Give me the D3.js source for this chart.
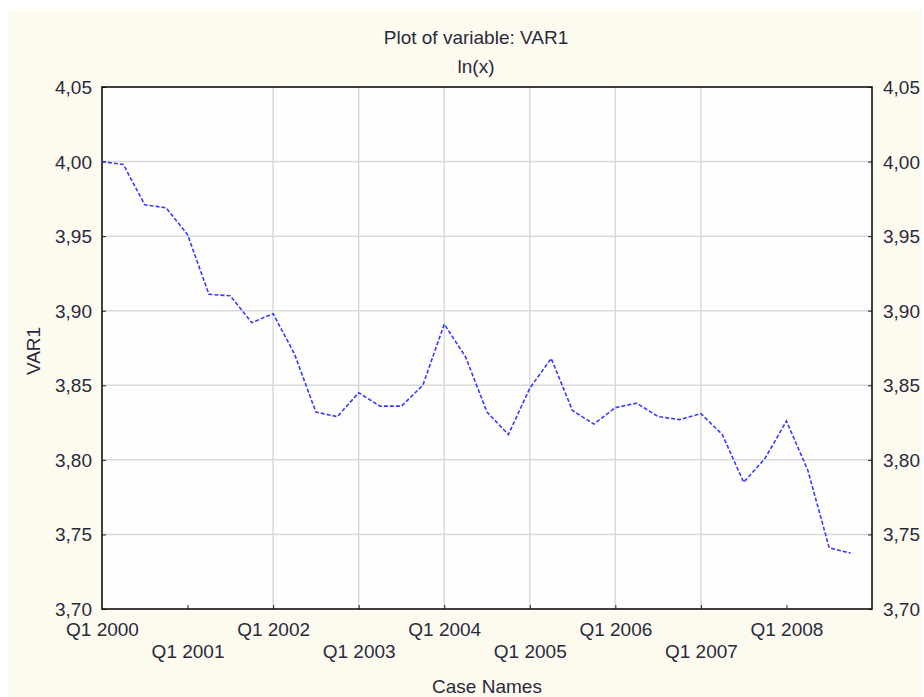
<!DOCTYPE html>
<html>
<head>
<meta charset="utf-8">
<script src="https://cdn.jsdelivr.net/npm/d3@7"></script>
<style>
  html, body { margin: 0; padding: 0; background: #ffffff; }
  svg { display: block; }
  text { font-family: "Liberation Sans", Arial, sans-serif; fill: #2a2a3a; }
</style>
</head>
<body>
<svg id="chart" width="924" height="697"></svg>
<script>
// ---- data ----
const caseNames = [
  "Q1 2000","Q2 2000","Q3 2000","Q4 2000",
  "Q1 2001","Q2 2001","Q3 2001","Q4 2001",
  "Q1 2002","Q2 2002","Q3 2002","Q4 2002",
  "Q1 2003","Q2 2003","Q3 2003","Q4 2003",
  "Q1 2004","Q2 2004","Q3 2004","Q4 2004",
  "Q1 2005","Q2 2005","Q3 2005","Q4 2005",
  "Q1 2006","Q2 2006","Q3 2006","Q4 2006",
  "Q1 2007","Q2 2007","Q3 2007","Q4 2007",
  "Q1 2008","Q2 2008","Q3 2008","Q4 2008"
];
const var1 = [
  4.000, 3.998, 3.971, 3.969,
  3.951, 3.911, 3.910, 3.892,
  3.898, 3.871, 3.832, 3.829,
  3.845, 3.836, 3.836, 3.850,
  3.891, 3.869, 3.832, 3.817,
  3.848, 3.868, 3.833, 3.824,
  3.835, 3.838, 3.829, 3.827,
  3.831, 3.817, 3.785, 3.801,
  3.826, 3.793, 3.741, 3.7375
];
const xTickLabels = ["Q1 2000","Q1 2001","Q1 2002","Q1 2003","Q1 2004","Q1 2005","Q1 2006","Q1 2007","Q1 2008"];
const xGridLabels = ["Q1 2002","Q1 2003","Q1 2004","Q1 2005","Q1 2006","Q1 2007"];
const yTicks = [3.70, 3.75, 3.80, 3.85, 3.90, 3.95, 4.00, 4.05];
const titleLines = ["Plot of variable: VAR1", "ln(x)"];

// ---- layout ----
const FS = 19;
const svg = d3.select("#chart");
const L = 102, R = 872, T = 87, B = 609;

svg.append("rect").attr("x", 8).attr("y", 9).attr("width", 914).attr("height", 688)
  .attr("fill", "#fdfbf0");
svg.append("rect").attr("x", L).attr("y", T).attr("width", R - L).attr("height", B - T)
  .attr("fill", "#fefefe");

const x = d3.scaleLinear().domain([0, caseNames.length]).range([L, R]);
const y = d3.scaleLinear().domain([3.70, 4.05]).range([B, T]);
const fmt = v => d3.format(".2f")(v).replace(".", ",");
const idx = name => caseNames.indexOf(name);

// gridlines
const grid = svg.append("g");
grid.selectAll("line.h").data(yTicks.filter(v => v > 3.70 && v < 4.05)).join("line")
  .attr("x1", L).attr("x2", R).attr("y1", d => y(d)).attr("y2", d => y(d))
  .attr("stroke", "#d9d9d9").attr("stroke-width", 1.5);
grid.selectAll("line.v").data(xGridLabels).join("line")
  .attr("x1", d => x(idx(d))).attr("x2", d => x(idx(d))).attr("y1", T).attr("y2", B)
  .attr("stroke", "#d9d9d9").attr("stroke-width", 1.5);

// axes
const yLeft = d3.axisLeft(y).tickValues(yTicks).tickFormat(fmt).tickSize(-4);
const yRight = d3.axisRight(y).tickValues(yTicks).tickFormat(fmt).tickSize(-4);
const gl = svg.append("g").attr("transform", `translate(${L},0)`).call(yLeft);
const gr = svg.append("g").attr("transform", `translate(${R},0)`).call(yRight);
[gl, gr].forEach(g => {
  g.select(".domain").remove();
  g.selectAll(".tick line").attr("stroke", "#222");
  g.selectAll(".tick text").attr("font-size", FS).attr("fill", "#2a2a3a")
    .attr("font-family", "'Liberation Sans', Arial, sans-serif");
});
gl.selectAll(".tick text").attr("text-anchor", "end").attr("x", -10).attr("dy", "0.34em");
gr.selectAll(".tick text").attr("text-anchor", "start").attr("x", 11).attr("dy", "0.34em");

const xAxis = d3.axisBottom(x).tickValues(xTickLabels.map(idx)).tickFormat(i => caseNames[i]).tickSize(-4).tickPadding(0);
const gx = svg.append("g").attr("transform", `translate(0,${B})`).call(xAxis);
gx.select(".domain").remove();
gx.selectAll(".tick line").attr("stroke", "#222");
gx.selectAll(".tick text").attr("font-size", FS).attr("fill", "#2a2a3a")
  .attr("font-family", "'Liberation Sans', Arial, sans-serif")
  .attr("y", (d, i) => i % 2 === 0 ? 14 : 36);
gx.selectAll(".tick").filter((d, i) => i === 0).select("line").remove();

// frame
svg.append("rect").attr("x", L).attr("y", T).attr("width", R - L).attr("height", B - T)
  .attr("fill", "none").attr("stroke", "#111").attr("stroke-width", 1.6);

// line
const line = d3.line().x((d, i) => x(i)).y(d => y(d));
svg.append("path").datum(var1).attr("d", line)
  .attr("fill", "none").attr("stroke", "#3a3aff").attr("stroke-width", 1.6)
  .attr("stroke-dasharray", "4,2");

// titles
svg.selectAll("text.title").data(titleLines).join("text")
  .attr("x", 476).attr("y", (d, i) => 44 + i * 29)
  .attr("text-anchor", "middle").attr("font-size", FS).text(d => d);
svg.append("text").attr("x", 487).attr("y", 693).attr("text-anchor", "middle")
  .attr("font-size", FS).text("Case Names");
svg.append("text").attr("transform", "translate(40,351) rotate(-90)")
  .attr("text-anchor", "middle").attr("font-size", FS).text("VAR1");
</script>
</body>
</html>
